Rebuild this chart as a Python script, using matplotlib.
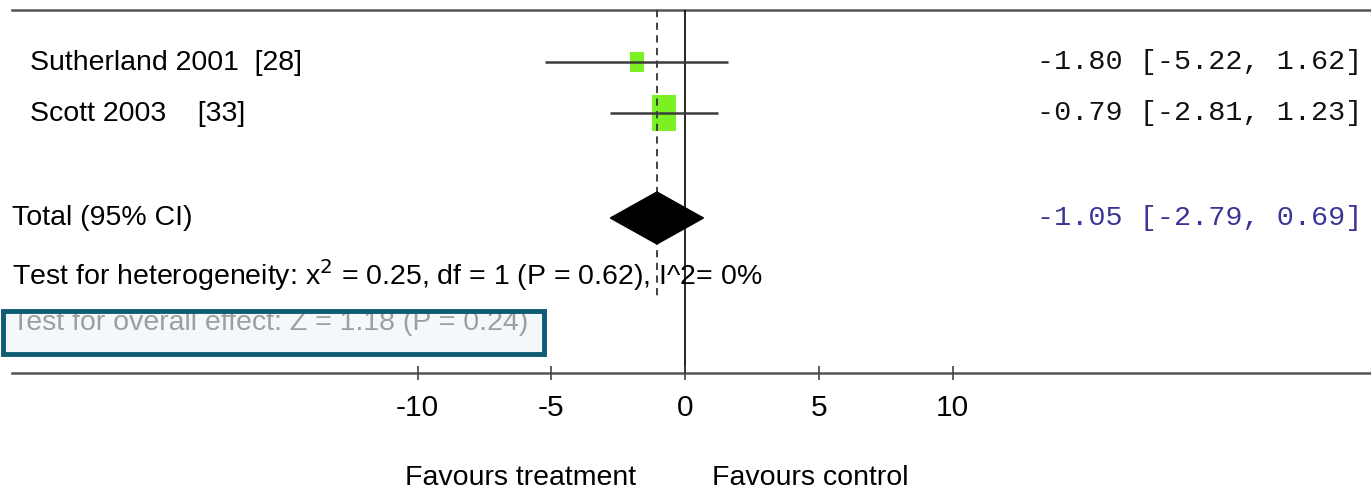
import numpy as np
import matplotlib
matplotlib.use("Agg")
import matplotlib.pyplot as plt
import matplotlib.transforms as mtransforms
from matplotlib.patches import Rectangle, Polygon

# Study data (mean difference, 95% CI, weight %)
studies = ["Sutherland 2001  [28]", "Scott 2003    [33]"]
estimates = [-1.80, -0.79]
ci_low = [-5.22, -2.81]
ci_high = [1.62, 1.23]
weights = [25.9, 74.1]

total_est = -1.05
total_low = -2.79
total_high = 0.69

het_text = "Test for heterogeneity: x$^2$ = 0.25, df = 1 (P = 0.62), I^2= 0%"
overall_text = "Test for overall effect: Z = 1.18 (P = 0.24)"

tick_values = [-10, -5, 0, 5, 10]
favours = ["Favours treatment", "Favours control"]

W, H = 1371, 497
zero_px, unit_px = 685, 26.75

sans = ["Liberation Sans", "DejaVu Sans"]
mono = ["Liberation Mono", "DejaVu Sans Mono"]

fig = plt.figure(figsize=(W / 100, H / 100), dpi=100)
ax = fig.add_axes([0, 0, 1, 1])
ax.set_xlim(-zero_px / unit_px, (W - zero_px) / unit_px)
ax.set_ylim(H, 0)
ax.axis("off")

# x in axes fraction, y in pixel rows
tr = mtransforms.blended_transform_factory(ax.transAxes, ax.transData)

line_col = "#3c3c3c"
row_y = [62, 113]
total_y = 218
fs = 20.5

# frame lines
ax.plot([12 / W, 1], [10, 10], color="#555555", lw=1.8, transform=tr)
ax.plot([12 / W, 1], [373, 373], color="#555555", lw=1.8, transform=tr)

# line of no effect and pooled estimate line
ax.vlines(0, 10, 373, color="black", lw=1.2)
ax.vlines(total_est, 10, 300, color="#333333", lw=1.3, linestyles=(0, (4, 3)))

# ticks and tick labels
ax.vlines(tick_values, 366, 380, color="#444444", lw=1.2)
for t in tick_values:
    ax.text(t, 408, f"{t}", ha="center", va="center", fontsize=21.5,
            family=sans, color="black")

# studies
for name, est, lo, hi, w, y in zip(studies, estimates, ci_low, ci_high, weights, row_y):
    ax.hlines(y, lo, hi, color=line_col, lw=1.8, zorder=2)
    sw = 2.87 * np.sqrt(w) / unit_px
    sh = 4.1 * np.sqrt(w)
    ax.add_patch(Rectangle((est - sw / 2, y - sh / 2), sw, sh,
                           facecolor="#7cf023", edgecolor="none", zorder=1))
    ax.text(30 / W, y + 1, name, transform=tr, ha="left", va="center",
            fontsize=fs, family=sans)
    ax.text(1362 / W, y, f"{est:.2f} [{lo:.2f}, {hi:.2f}]", transform=tr,
            ha="right", va="center", fontsize=20.5, family=mono, color="#111111")

# pooled diamond
dh = 26
ax.add_patch(Polygon([(total_low, total_y), (total_est, total_y - dh),
                      (total_high, total_y), (total_est, total_y + dh)],
                     closed=True, facecolor="black", edgecolor="black", zorder=3))
ax.text(12 / W, total_y, "Total (95% CI)", transform=tr, ha="left", va="center",
        fontsize=fs, family=sans)
ax.text(1362 / W, total_y,
        f"{total_est:.2f} [{total_low:.2f}, {total_high:.2f}]", transform=tr,
        ha="right", va="center", fontsize=20.5, family=mono, color="#3a3496")

ax.text(12 / W, 275, het_text, transform=tr, ha="left", va="center",
        fontsize=fs, family=sans)
ax.text(12 / W, 323, overall_text, transform=tr, ha="left", va="center",
        fontsize=fs, family=sans, color="black")

# highlight box over the overall effect line
ax.add_patch(Rectangle((3 / W, 311), 541 / W, 43, transform=tr,
                       facecolor="#eef6f8", edgecolor="none", alpha=0.65, zorder=4))
ax.add_patch(Rectangle((3 / W, 311), 541 / W, 43, transform=tr,
                       facecolor="none", edgecolor="#0e5b73", lw=3.5, zorder=5))

# favours labels
ax.text(521 / W, 478, favours[0], transform=tr, ha="center", va="center",
        fontsize=fs, family=sans)
ax.text(810 / W, 478, favours[1], transform=tr, ha="center", va="center",
        fontsize=fs, family=sans)

fig.savefig("out.png", dpi=100)
